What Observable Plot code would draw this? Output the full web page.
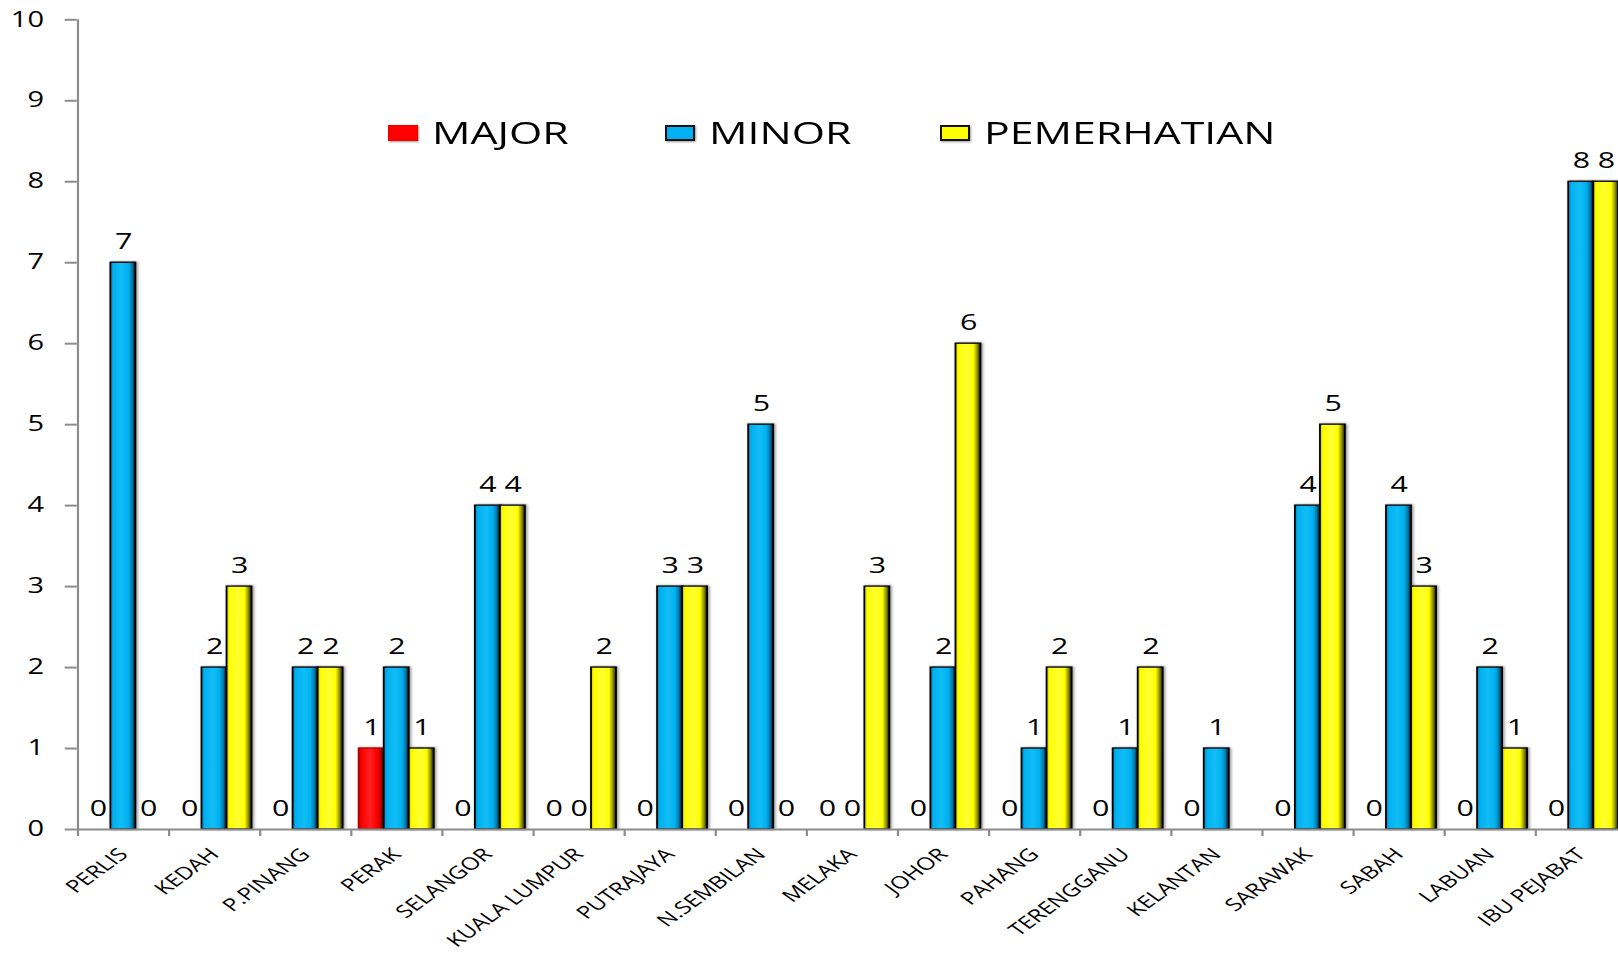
<!DOCTYPE html>
<html>
<head>
<meta charset="utf-8">
<script src="https://cdn.jsdelivr.net/npm/d3@7"></script>
<script src="https://cdn.jsdelivr.net/npm/@observablehq/plot@0.6"></script>
<style>
  html, body { margin: 0; padding: 0; background: #fff; overflow: hidden; }
  #wrap { position: relative; width: 1618px; height: 953px; }
  #legend { position: absolute; top: 0; left: 0; width: 100%; height: 0; font-family: "Open Sans", sans-serif; }
  .item { position: absolute; top: 116px; height: 40px; }
  .sw { position: absolute; top: 9px; width: 30px; height: 16px; box-sizing: border-box; }
  .lb { position: absolute; left: 44px; top: -4px; font-size: 31px; line-height: 40px; color: #000; white-space: nowrap;
        transform: scaleX(1.38); transform-origin: 0 50%; }
</style>
</head>
<body>
<div id="wrap">
  <div id="chart"></div>
  <div id="legend"></div>
</div>
<script>
// ---- data ----
const categories = ["PERLIS","KEDAH","P.PINANG","PERAK","SELANGOR","KUALA LUMPUR","PUTRAJAYA","N.SEMBILAN","MELAKA","JOHOR","PAHANG","TERENGGANU","KELANTAN","SARAWAK","SABAH","LABUAN","IBU PEJABAT"];
const major       = [0,0,0,1,0,0,0,0,0,0,0,0,0,0,0,0,0];
const minor       = [7,2,2,2,4,0,3,5,0,2,1,1,1,4,4,2,8];
const pemerhatian = [0,3,2,1,4,2,3,0,3,6,2,2,null,5,3,1,8];
const seriesNames = ["MAJOR","MINOR","PEMERHATIAN"];
const yTicks = [0,1,2,3,4,5,6,7,8,9,10];

// ---- layout (internal coords, stretched horizontally afterwards) ----
const W = 1618, H = 953;
const S = 1618 / 1172;           // horizontal stretch of the reference
const IW = 1172;
const x0 = 76.7 / S, x1 = 1627 / S;
const step = (x1 - x0) / categories.length;
const pad = 8 / S;
const bw = (step - 2 * pad) / 3;

const colors = ["#FF0000", "#00B0F0", "#FFFF00"];
const fills = ["url(#gRed)", "url(#gBlue)", "url(#gYellow)"];
const strokes = ["#b00000", "#000", "#000"];
const seriesVals = [major, minor, pemerhatian];

const rows = seriesVals.map((vals, j) =>
  categories.map((c, i) => ({cat: c, series: seriesNames[j], value: vals[i]}))
);

const marks = [];
// bars
rows.forEach((r, j) => {
  marks.push(Plot.barY(r.filter(d => d.value != null && d.value > 0), {
    x: "cat", y: "value",
    fill: fills[j], stroke: strokes[j], strokeWidth: 1.3,
    insetLeft: pad + j * bw, insetRight: step - pad - (j + 1) * bw
  }));
});
// value labels
rows.forEach((r, j) => {
  marks.push(Plot.text(r.filter(d => d.value != null), {
    x: "cat", y: "value", text: d => String(d.value),
    dx: pad + (j + 0.5) * bw - step / 2, dy: -21,
    fontSize: 22, fill: "#000", lineAnchor: "middle", textAnchor: "middle"
  }));
});
// x axis baseline
marks.push(Plot.ruleY([0], {stroke: "#8c8c8c", strokeWidth: 2}));
// category boundary ticks
marks.push(Plot.ruleX(categories, {x: d => d, dx: -step / 2, y1: 0, y2: 0, insetBottom: -7, stroke: "#8c8c8c", strokeWidth: 1.6}));
// y axis line
marks.push(Plot.ruleX([categories[0]], {dx: -step / 2, y1: 0, y2: 10, stroke: "#8c8c8c", strokeWidth: 1.6}));
// axes
marks.push(Plot.axisY({ticks: yTicks, tickSize: 12 / S, tickPadding: 15.5, fontSize: 21, stroke: "#8c8c8c", strokeWidth: 2, fill: "#000", tickFormat: d => String(d)}));
marks.push(Plot.axisX({tickSize: 0, tickPadding: 22, tickRotate: -45, fontSize: 17.5, fill: "#000", textAnchor: "end", lineAnchor: "middle"}));

const plot = Plot.plot({
  width: IW, height: H,
  marginLeft: x0, marginRight: IW - x1, marginTop: 19.3, marginBottom: 124,
  style: {fontFamily: "'Open Sans', sans-serif", color: "#000", background: "transparent"},
  x: {domain: categories, range: [x0, x1], padding: 0, label: null, axis: null},
  y: {domain: [0, 10], label: null, axis: null},
  marks
});

// gradient defs for 3D-ish bars
const svg = d3.select(plot);
const defs = svg.insert("defs", ":first-child");
function grad(id, dark, base, light, edge) {
  const g = defs.append("linearGradient").attr("id", id).attr("x1", "0").attr("x2", "1").attr("y1", "0").attr("y2", "0");
  [[0, dark], [0.12, base], [0.45, light], [0.72, base], [0.88, edge], [1, "#111"]].forEach(([o, c]) =>
    g.append("stop").attr("offset", o).attr("stop-color", c));
}
grad("gBlue", "#0088bb", "#00B0F0", "#12bdf5", "#0077a6");
grad("gYellow", "#c8c800", "#FFFF00", "#FFFF33", "#8a8a00");
grad("gRed", "#cc0000", "#FF0000", "#ff2020", "#c00000");

svg.selectAll("g[aria-label='bar']").style("filter", "drop-shadow(1px 0 1.2px rgba(0,0,0,0.45))");

plot.setAttribute("width", W);
plot.setAttribute("preserveAspectRatio", "none");
plot.style.width = W + "px";
plot.style.height = H + "px";
plot.style.maxWidth = "none";
document.getElementById("chart").appendChild(plot);

// legend (inside plot area)
const legendPos = [388, 665, 940];
const legend = d3.select("#legend");
seriesNames.forEach((name, j) => {
  const it = legend.append("div").attr("class", "item").style("left", legendPos[j] + "px");
  it.append("div").attr("class", "sw")
    .style("background", colors[j])
    .style("border", j === 0 ? "1px solid #e00" : "2px solid #111")
    .style("box-shadow", "1px 1px 2px rgba(0,0,0,0.4)");
  it.append("div").attr("class", "lb").text(name);
});
</script>
</body>
</html>
